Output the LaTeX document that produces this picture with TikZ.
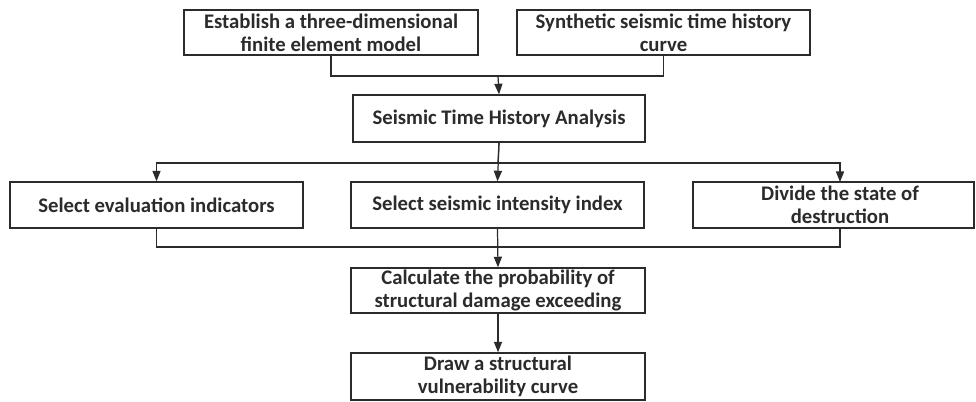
\documentclass[tikz,border=0pt]{standalone}
\usepackage{fontspec}
\setmainfont{Carlito}
\usepackage{xcolor}
\usepackage{tikz}
\usetikzlibrary{arrows.meta}
\definecolor{ink}{HTML}{2B2B2B}
\tikzset{
  box/.style={draw=ink, line width=0.8pt, fill=white, align=center, inner sep=1pt,
    minimum height=0.9cm, text=ink, font=\bfseries\fontsize{11.8}{13.2}\selectfont},
  link/.style={draw=ink, line width=0.7pt},
  flow/.style={link, -{Triangle[length=6pt,width=4.6pt]}},
}

\begin{document}
\begin{tikzpicture}
  \useasboundingbox (0,0) rectangle (19.52,-8.02);
  % first row
  \node[box, minimum width=5.88cm] (model) at (6.62,-0.65) {Establish a three-dimensional\\finite element model};
  \node[box, minimum width=5.86cm] (synth) at (13.27,-0.65) {Synthetic seismic time history\\curve};
  \node[box, minimum width=5.84cm, minimum height=0.94cm] (analysis) at (9.98,-2.37) {Seismic Time History Analysis};
  % second row
  \node[box, minimum width=5.86cm, minimum height=0.92cm] (eval) at (3.13,-4.10) {Select evaluation indicators};
  \node[box, minimum width=5.86cm, minimum height=0.92cm] (intensity) at (9.95,-4.10) {Select seismic intensity index};
  \node[box, minimum width=5.62cm, minimum height=0.92cm] (divide) at (16.67,-4.10) {\hspace*{0.26cm}Divide the state of\\\hspace*{0.26cm}destruction};
  % last steps
  \node[box, minimum width=5.88cm] (calc) at (9.96,-5.81) {Calculate the probability of\\structural damage exceeding};
  \node[box, minimum width=5.88cm, minimum height=0.94cm] (curve) at (9.96,-7.53) {Draw a structural\\vulnerability curve};

  \coordinate (join) at (9.96,-1.52);
  \coordinate (split) at (9.96,-3.26);
  \coordinate (merge) at (9.96,-4.94);
  \coordinate (divtop) at (16.8,-3.64);
  \coordinate (divbot) at (16.8,-4.56);

  \draw[link] (model.south) |- (join) -| (synth.south);
  \draw[flow] (join) -- (analysis.north);
  \draw[link] (analysis.south) -- (split);
  \draw[flow] (split) -| (eval.north);
  \draw[flow] (split) -| (divtop);
  \draw[flow] (analysis.south) -- (intensity.north);
  \draw[link] (eval.south) |- (merge) -| (divbot);
  \draw[flow] (intensity.south) -- (calc.north);
  \draw[flow] (calc.south) -- (curve.north);
\end{tikzpicture}
\end{document}
